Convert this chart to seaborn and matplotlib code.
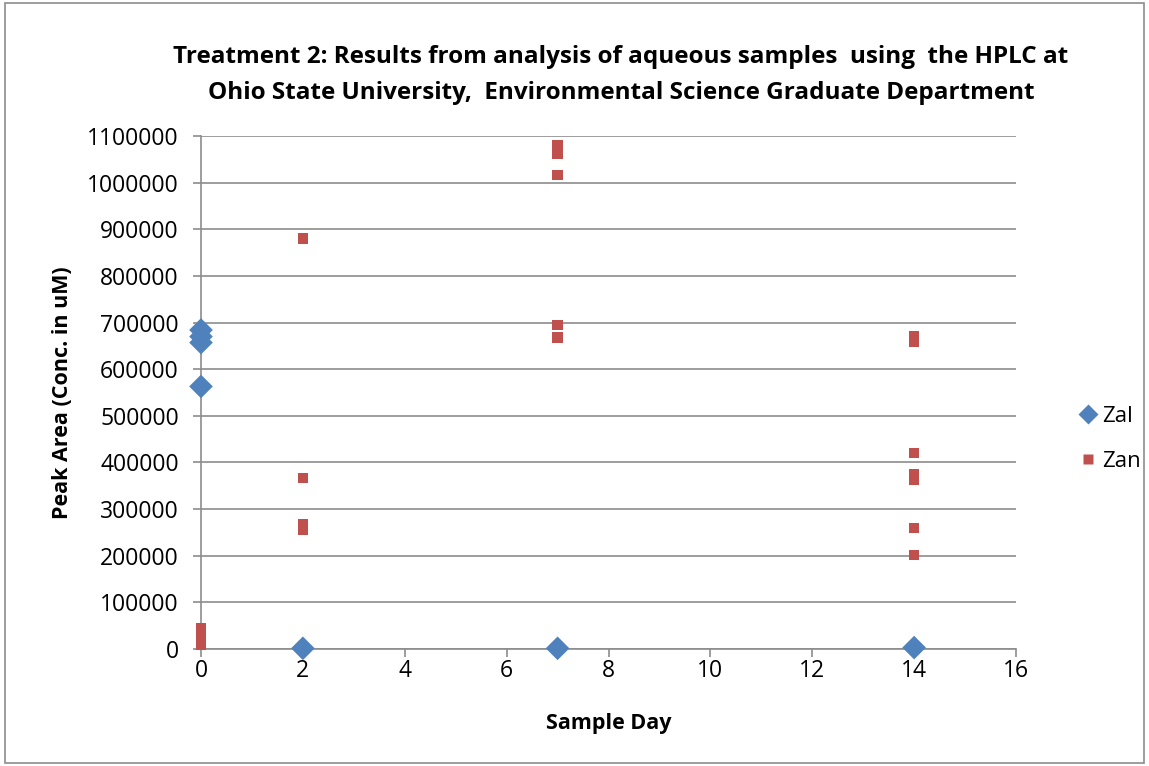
import matplotlib
matplotlib.use("Agg")
import matplotlib.pyplot as plt
import seaborn as sns
import pandas as pd
from matplotlib.lines import Line2D

zal_day = [0, 0, 0, 0, 2, 7, 14]
zal_val = [684000, 670000, 657000, 563000, 1500, 1500, 3000]
zan_day = [0, 0, 0, 0, 2, 2, 2, 2, 7, 7, 7, 7, 7, 14, 14, 14, 14, 14, 14, 14]
zan_val = [45000, 25000, 15000, 8000,
           880000, 367000, 268000, 255000,
           1080000, 1062000, 1017000, 694000, 668000,
           670000, 658000, 421000, 375000, 362000, 260000, 202000]

zal_df = pd.DataFrame({"day": zal_day, "val": zal_val})
zan_df = pd.DataFrame({"day": zan_day, "val": zan_val})

sns.set_theme(style="white")
plt.rcParams['font.family'] = ['Open Sans', 'DejaVu Sans']
plt.rcParams['text.color'] = 'black'
plt.rcParams['axes.labelcolor'] = 'black'
plt.rcParams['xtick.color'] = 'black'
plt.rcParams['ytick.color'] = 'black'

fig = plt.figure(figsize=(11.49, 7.66), dpi=100)
ax = fig.add_axes([201/1149, 1-649/766, (1016-201)/1149, (649-136)/766])

c_zal, c_zan = "#4F81BD", "#C0504D"
sns.scatterplot(data=zan_df, x="day", y="val", color=c_zan, marker="s", s=55,
                edgecolor="none", ax=ax, zorder=3, clip_on=False, legend=False)
sns.scatterplot(data=zal_df, x="day", y="val", color=c_zal, marker="D", s=145,
                edgecolor="none", ax=ax, zorder=4, clip_on=False, legend=False)

ax.set_xlim(0, 16)
ax.set_ylim(0, 1100000)
ax.set_xticks(range(0, 17, 2))
ax.set_yticks(range(0, 1100001, 100000))
ax.set_yticklabels([str(v) for v in range(0, 1100001, 100000)])
ax.grid(axis='y', color='#8c8c8c', linewidth=1.2)
ax.set_axisbelow(True)
for s in ['top', 'right']:
    ax.spines[s].set_visible(False)
for s in ['left', 'bottom']:
    ax.spines[s].set_color('#8c8c8c')
    ax.spines[s].set_linewidth(1.2)
ax.tick_params(axis='both', which='both', direction='out', length=6, width=1.2,
               color='#8c8c8c', labelcolor='black', labelsize=16.5, left=True, bottom=True)
ax.tick_params(axis='y', pad=10)
ax.tick_params(axis='x', pad=1)
ax.set_xlabel("Sample Day", fontsize=15.5, fontweight='bold', labelpad=22, color='black')
ax.set_ylabel("Peak Area (Conc. in uM)", fontsize=15.5, fontweight='bold', labelpad=10, color='black')

fig.text(621/1149, 1-57/766, "Treatment 2: Results from analysis of aqueous samples  using  the HPLC at",
         ha='center', va='center', fontsize=17.5, fontweight='bold', color='black')
fig.text(621/1149, 1-93/766, "Ohio State University,  Environmental Science Graduate Department",
         ha='center', va='center', fontsize=17.5, fontweight='bold', color='black')

handles = [Line2D([], [], marker='D', color='none', markerfacecolor=c_zal,
                  markeredgecolor='none', markersize=10, label='Zal'),
           Line2D([], [], marker='s', color='none', markerfacecolor=c_zan,
                  markeredgecolor='none', markersize=6.5, label='Zan')]
leg = fig.legend(handles=handles, loc='center left', bbox_to_anchor=(1055/1149, 1-439/766),
                 frameon=False, fontsize=16, handletextpad=0.0, labelspacing=1.1,
                 handlelength=1.2)
for t in leg.get_texts():
    t.set_color('black')

fig.patches.append(plt.Rectangle((0.004, 0.004), 0.992, 0.992, transform=fig.transFigure,
                                 fill=False, edgecolor='#8c8c8c', linewidth=1.2))

fig.savefig("out.png", dpi=100)
